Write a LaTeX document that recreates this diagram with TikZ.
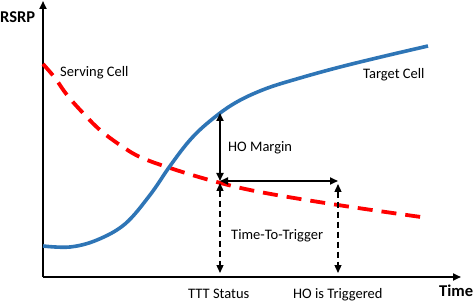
\documentclass[tikz,border=0pt]{standalone}
\usepackage{fontspec}
\setmainfont{Carlito}
\usetikzlibrary{arrows.meta}
\begin{document}
\begin{tikzpicture}[x=1pt,y=-1pt,
  lbl/.style={font=\fontsize{14.5}{17}\selectfont, inner sep=0pt, anchor=base west},
  axlbl/.style={font=\fontsize{16.5}{19}\selectfont\bfseries, inner sep=0pt, anchor=base west},
  axis/.style={line width=2.2pt, -{Triangle[length=8pt,width=7pt]}},
  dim/.style={line width=1.8pt, {Triangle[length=8pt,width=7pt]}-{Triangle[length=8pt,width=7pt]}},
  ddim/.style={line width=1.3pt, dash pattern=on 6pt off 4pt, {Triangle[length=8pt,width=7pt]}-{Triangle[length=8pt,width=7pt]}},
  serving/.style={red, line width=3.8pt, dash pattern=on 15pt off 9pt},
  target/.style={color={rgb,255:red,46;green,117;blue,182}, line width=3.6pt}]
\useasboundingbox (0,0) rectangle (476,304);
% axes
\coordinate (O) at (43,277);
\coordinate (ytop) at (43,1);
\coordinate (xend) at (461,277);
\draw[axis] (O) -- (ytop);
\draw[axis] (O) -- (xend);
\node[axlbl] (rsrp) at (0,23) {RSRP};
\node[axlbl] (time) at (439,296) {Time};
% curves
\draw[serving] plot[smooth, tension=0.6] coordinates {(43,64) (55,78) (67,95) (83,113) (100,130) (120,145) (140,157) (170,168) (213,181) (260,192) (338,205) (428,218)};
\draw[target] plot[smooth, tension=0.6] coordinates {(43,246) (70,247) (97,240) (125,224) (150,195) (170,166) (190,140) (210,121) (235,103) (265,89) (300,78) (340,67) (385,56) (428,46)};
% labels
\node[lbl] (serv) at (60,77) {Serving Cell};
\node[lbl] (targ) at (363,79) {Target Cell};
\node[lbl] (hom) at (228,152) {HO Margin};
\node[lbl] (ttt) at (231,240) {Time-To-Trigger};
\node[lbl] (tts) at (188,298) {TTT Status};
\node[lbl] (hot) at (293,298) {HO is Triggered};
% arrows
\coordinate (a1) at (220,113);
\coordinate (a2) at (220,181);
\coordinate (a3) at (338,181);
\coordinate (b1) at (220,183);
\coordinate (b2) at (220,273);
\coordinate (c1) at (338,184);
\coordinate (c2) at (338,273);
\draw[dim] (a1) -- (a2);
\draw[dim] (a2) -- (a3);
\draw[ddim] (b1) -- (b2);
\draw[ddim] (c1) -- (c2);
\end{tikzpicture}
\end{document}
